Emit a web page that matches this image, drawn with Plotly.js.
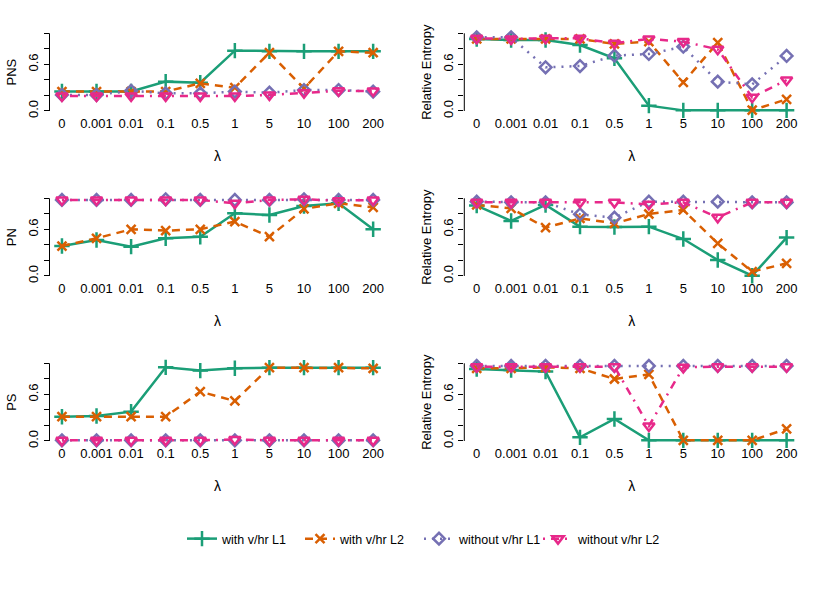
<!DOCTYPE html>
<html>
<head>
<meta charset="utf-8">
<script src="https://cdn.plot.ly/plotly-3.0.1.min.js"></script>
<style>html,body{margin:0;padding:0;background:#fff;}#chart{width:830px;height:604px;}</style>
</head>
<body>
<div id="chart"></div>
<script>
// categories
const lambdas = ["0","0.001","0.01","0.1","0.5","1","5","10","100","200"];
const seriesNames = ["with v/hr L1","with v/hr L2","without v/hr L1","without v/hr L2"];

// Panel 1: PNS
const pnsWithL1    = [0.25,0.25,0.25,0.378,0.365,0.777,0.768,0.768,0.768,0.768];
const pnsWithL2    = [0.25,0.25,0.25,0.25,0.356,0.30,0.75,0.29,0.768,0.75];
const pnsWithoutL1 = [0.206,0.206,0.26,0.227,0.227,0.25,0.236,0.27,0.27,0.25];
const pnsWithoutL2 = [0.193,0.193,0.193,0.193,0.193,0.193,0.206,0.236,0.26,0.257];
// Panel 2: Relative Entropy (PNS)
const re1WithL1    = [0.927,0.914,0.914,0.85,0.678,0.069,0.008,0.008,0.008,0.008];
const re1WithL2    = [0.927,0.927,0.927,0.927,0.863,0.893,0.369,0.88,0.01,0.15];
const re1WithoutL1 = [0.948,0.948,0.562,0.579,0.712,0.734,0.828,0.378,0.343,0.708];
const re1WithoutL2 = [0.936,0.927,0.936,0.936,0.871,0.927,0.893,0.794,0.176,0.399];
// Panel 3: PN
const pnWithL1    = [0.386,0.464,0.378,0.485,0.506,0.807,0.785,0.901,0.936,0.601];
const pnWithL2    = [0.386,0.485,0.601,0.584,0.601,0.70,0.506,0.863,0.936,0.884];
const pnWithoutL1 = [0.979,0.979,0.979,0.987,0.979,0.979,0.979,0.987,0.979,0.979];
const pnWithoutL2 = [0.979,0.979,0.979,0.979,0.979,0.936,0.979,0.987,0.97,0.979];
// Panel 4: Relative Entropy (PN)
const re2WithL1    = [0.906,0.708,0.914,0.635,0.631,0.635,0.476,0.206,0.004,0.494];
const re2WithL2    = [0.914,0.871,0.622,0.742,0.678,0.798,0.85,0.42,0.056,0.163];
const re2WithoutL1 = [0.957,0.948,0.948,0.794,0.751,0.957,0.957,0.957,0.948,0.948];
const re2WithoutL2 = [0.948,0.948,0.948,0.948,0.948,0.923,0.948,0.755,0.948,0.948];
// Panel 5: PS
const psWithL1    = [0.313,0.322,0.378,0.948,0.906,0.936,0.944,0.944,0.944,0.944];
const psWithL2    = [0.313,0.313,0.313,0.313,0.635,0.515,0.944,0.944,0.944,0.936];
const psWithoutL1 = [0.008,0.008,0.008,0.008,0.008,0.008,0.008,0.008,0.008,0.008];
const psWithoutL2 = [0.008,0.008,0.008,0.008,0.008,0.02,0.008,0.008,0.008,0.008];
// Panel 6: Relative Entropy (PS)
const re3WithL1    = [0.927,0.914,0.893,0.047,0.283,0.008,0.008,0.008,0.008,0.008];
const re3WithL2    = [0.936,0.936,0.948,0.936,0.798,0.858,0.008,0.008,0.008,0.155];
const re3WithoutL1 = [0.966,0.966,0.966,0.966,0.966,0.966,0.966,0.966,0.966,0.966];
const re3WithoutL2 = [0.957,0.957,0.957,0.957,0.957,0.193,0.948,0.957,0.957,0.957];

const yTickVals = [0,0.2,0.4,0.6,0.8,1.0];
const yTickText = ["0.0","","","0.6","",""];

const colors = ["#1B9E77","#D95F02","#7570B3","#E7298A"];
const dashes = ["solid","8px,6px","2px,6px","2px,6px,8px,6px"];
const symbols = ["cross-thin-open","x-thin-open","diamond-open","triangle-down-open"];
const msizes = [11,9,9,10];

const panels = [
  {data:[pnsWithL1,pnsWithL2,pnsWithoutL1,pnsWithoutL2], ytitle:"PNS"},
  {data:[re1WithL1,re1WithL2,re1WithoutL1,re1WithoutL2], ytitle:"Relative Entropy"},
  {data:[pnWithL1,pnWithL2,pnWithoutL1,pnWithoutL2], ytitle:"PN"},
  {data:[re2WithL1,re2WithL2,re2WithoutL1,re2WithoutL2], ytitle:"Relative Entropy"},
  {data:[psWithL1,psWithL2,psWithoutL1,psWithoutL2], ytitle:"PS"},
  {data:[re3WithL1,re3WithL2,re3WithoutL1,re3WithoutL2], ytitle:"Relative Entropy"}
];

const W = 830, H = 604;
const xDomains = [[49.5/W, 385.6/W],[464.3/W, 799/W]];
const rowsPx = [[30.2,114.1],[195.2,279.1],[360.2,444.1]];
const yDomains = rowsPx.map(r => [1 - r[1]/H, 1 - r[0]/H]);

const font = {family:"Liberation Sans, Arial, sans-serif", size:13, color:"#000"};
const traces = [];
const layout = {
  width:W, height:H,
  margin:{l:0,r:0,t:0,b:0},
  paper_bgcolor:"#fff", plot_bgcolor:"#fff",
  font:font,
  showlegend:true
};
// one legend per series, placed like R's evenly spaced horizontal legend
const legendIds = ["legend","legend2","legend3","legend4"];
const legendX = [182, 300, 419, 538];
legendIds.forEach((id, k) => {
  layout[id] = {orientation:"h", x:legendX[k]/W, y:1-539/H, xanchor:"left", yanchor:"middle",
    font:{size:12.5}, itemwidth:30, bgcolor:"rgba(0,0,0,0)"};
});

panels.forEach((p, i) => {
  const row = Math.floor(i/2), col = i%2;
  const n = i+1;
  const xa = n===1 ? "x" : "x"+n, ya = n===1 ? "y" : "y"+n;
  const xk = n===1 ? "xaxis" : "xaxis"+n, yk = n===1 ? "yaxis" : "yaxis"+n;
  p.data.forEach((vals, s) => {
    traces.push({
      type:"scatter", mode:"lines+markers",
      x:lambdas, y:vals, xaxis:xa, yaxis:ya,
      name:seriesNames[s], legendgroup:seriesNames[s], showlegend:i===0,
      legend:legendIds[s],
      line:{color:colors[s], width:2.5, dash:dashes[s]},
      marker:{symbol:symbols[s], size:msizes[s], color:colors[s], line:{color:colors[s], width:2.5}},
      cliponaxis:false
    });
  });
  layout[xk] = {
    domain:xDomains[col], anchor:ya, type:"category",
    range:[-0.36, 9.36], showgrid:false, zeroline:false, showline:false,
    ticks:"", tickfont:{size:13}, fixedrange:true,
    title:{text:"λ", font:{size:14}, standoff:21}
  };
  layout[yk] = {
    domain:yDomains[row], anchor:xa, range:[-0.04,1.04],
    tickvals:yTickVals, ticktext:yTickText, tickangle:-90,
    showgrid:false, zeroline:false, showline:false,
    ticks:"outside", ticklen:5, tickcolor:"#000", tickwidth:1,
    tickfont:{size:13}, fixedrange:true,
    title:{text:p.ytitle, font:{size:13}, standoff:6}
  };
});

// y axis line spanning 0 to 1 only (R style)
layout.shapes = [];
panels.forEach((p, i) => {
  const n = i+1;
  const xa = n===1 ? "x" : "x"+n, ya = n===1 ? "y" : "y"+n;
  layout.shapes.push({type:"line", xref:xa+" domain", yref:ya, x0:0, x1:0, y0:0, y1:1,
    line:{color:"#000", width:1}});
});

Plotly.newPlot("chart", traces, layout, {displayModeBar:false, staticPlot:true});
</script>
</body>
</html>
